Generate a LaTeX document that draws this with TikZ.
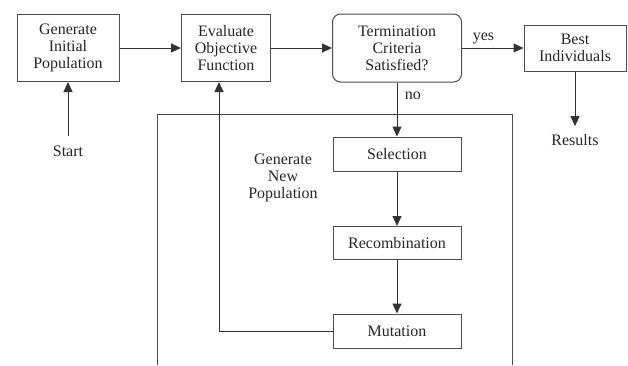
\documentclass[tikz,border=0pt]{standalone}
\usepackage{fontspec}
\setmainfont{Liberation Serif}
\usetikzlibrary{arrows.meta}

\begin{document}
\begin{tikzpicture}[x=1pt, y=-1pt,
        font=\fontsize{16}{17}\selectfont, text=black!85,
        box/.style={draw=black!70, line width=1pt, align=center, inner sep=0pt},
        flow/.style={draw=black!80, line width=1pt, -{Triangle[length=10pt,width=9pt]}}]
        \useasboundingbox (0,0) rectangle (628,365);

        \node[box, minimum width=102pt, minimum height=67pt] (init) at (68,48) {Generate\\Initial\\Population};
        \node[box, minimum width=89pt, minimum height=67pt] (eval) at (226,48) {Evaluate\\Objective\\Function};
        \node[box, rounded corners=8pt, minimum width=129pt, minimum height=68pt] (term) at (397,48) {Termination\\Criteria\\Satisfied?};
        \node[box, minimum width=102pt, minimum height=46pt] (best) at (575,48) {Best\\Individuals};
        \node[inner ysep=9pt] (start) at (68,151) {Start};
        \node[inner ysep=8pt] (res) at (575,140) {Results};

        \node[box, minimum width=128pt, minimum height=34pt] (sel) at (397,154) {Selection};
        \node[box, minimum width=128pt, minimum height=33pt] (rec) at (397,243) {Recombination};
        \node[box, minimum width=128pt, minimum height=34pt] (mut) at (397,331) {Mutation};
        \node[align=center] (newpop) at (283,178) {Generate\\New\\Population};

        % outer frame, open at the bottom
        \draw[black!70, line width=1pt] (157,365) -- (157,114) -- (512,114) -- (512,365);

        \draw[flow] (start) -- (init);
        \draw[flow] (init) -- (eval);
        \draw[flow] (eval) -- (term);
        \draw[flow] (term) -- node[above, pos=0.35] (yes) {yes} (best);
        \draw[flow] (best) -- (res);
        \draw[flow] (term) -- node[right, pos=0.25, xshift=4pt] (no) {no} (sel);
        \draw[flow] (sel) -- (rec);
        \draw[flow] (rec) -- (mut);
        \draw[flow] (mut.west) -| ([xshift=-7pt]eval.south);
\end{tikzpicture}
\end{document}
